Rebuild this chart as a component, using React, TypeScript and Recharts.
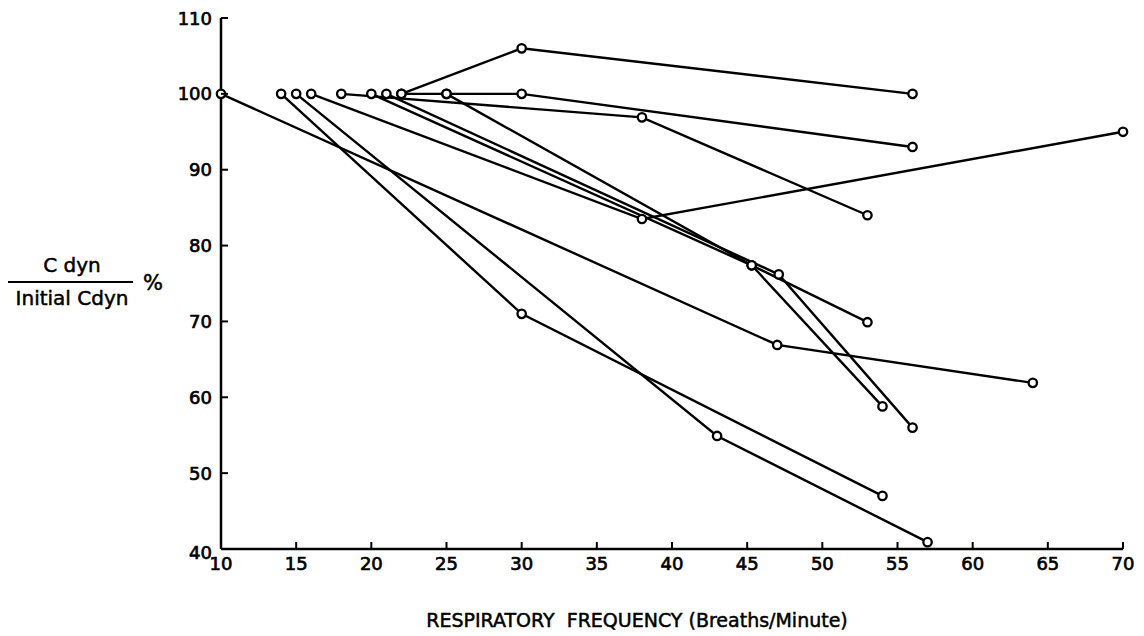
import React from 'react';
import { ComposedChart, Line, Scatter, XAxis, YAxis } from 'recharts';

// frequency (breaths/min) of each measurement, one row per subject
const subjectFreqs: number[][] = [
  [10, 47, 64],
  [14, 30, 54],
  [15, 43, 57],
  [16, 38, 70],
  [18, 38, 53],
  [20, 45.3, 53],
  [21, 47.1, 56],
  [22, 30, 56],
  [22, 25, 30, 56],
  [25, 45.3, 54],
];

// Cdyn as % of initial Cdyn, same layout as subjectFreqs
const subjectCdyn: number[][] = [
  [100, 66.9, 61.9],
  [100, 71, 47],
  [100, 54.9, 40.9],
  [100, 83.5, 95],
  [100, 96.9, 84],
  [100, 77.4, 69.9],
  [100, 76.2, 56],
  [100, 106, 100],
  [100, 100, 100, 93],
  [100, 77.4, 58.8],
];

const xTicks = [10, 15, 20, 25, 30, 35, 40, 45, 50, 55, 60, 65, 70];
const yTicks = [40, 50, 60, 70, 80, 90, 100, 110];

const FONT = '"DejaVu Sans", sans-serif';

const series = subjectFreqs.map((freqs, i) =>
  freqs.map((x, j) => ({ x, y: subjectCdyn[i][j] }))
);
const allPoints = series.flat();

const XTick = (props: any) => {
  const { x, y, payload } = props;
  return (
    <g>
      <line x1={x} x2={x} y1={y} y2={y - 7} stroke="#000" strokeWidth={2} />
      <text x={x} y={y + 14} textAnchor="middle" dominantBaseline="central"
        fontFamily={FONT} fontSize={18} fill="#000" stroke="#000" strokeWidth={0.7}>
        {payload.value}
      </text>
    </g>
  );
};

const YTick = (props: any) => {
  const { x, y, payload } = props;
  const dy = payload.value === 40 ? 3 : 0;
  return (
    <g>
      <line x1={x} x2={x + 7} y1={y} y2={y} stroke="#000" strokeWidth={2} />
      <text x={x - 9} y={y + dy} textAnchor="end" dominantBaseline="central"
        fontFamily={FONT} fontSize={18} fill="#000" stroke="#000" strokeWidth={0.7}>
        {payload.value}
      </text>
    </g>
  );
};

const Ring = (props: any) => (
  <circle cx={props.cx} cy={props.cy} r={4.2} fill="#fff" stroke="#000" strokeWidth={2.3} />
);

const labelStyle: React.CSSProperties = {
  position: 'absolute',
  fontFamily: FONT,
  color: '#000',
  whiteSpace: 'nowrap',
  transform: 'translate(-50%, -50%)',
  WebkitTextStroke: '0.5px #000',
};

export default function App() {
  return (
    <div style={{ position: 'absolute', left: 0, top: 0, width: 1144, height: 636, background: '#fff' }}>
      <ComposedChart width={1144} height={636} margin={{ top: 18, right: 21, bottom: 57, left: 161 }}>
        <XAxis
          type="number"
          dataKey="x"
          domain={[10, 70]}
          ticks={xTicks}
          height={30}
          tickSize={0}
          tickMargin={0}
          tick={<XTick />}
          axisLine={{ stroke: '#000', strokeWidth: 2.5 }}
        />
        <YAxis
          type="number"
          dataKey="y"
          domain={[40, 110]}
          ticks={yTicks}
          width={60}
          tickSize={0}
          tickMargin={0}
          tick={<YTick />}
          axisLine={{ stroke: '#000', strokeWidth: 2.5 }}
        />
        {series.map((data, i) => (
          <Line
            key={`subject-${i}`}
            data={data}
            dataKey="y"
            type="linear"
            stroke="#000"
            strokeWidth={2.4}
            dot={false}
            activeDot={false}
            isAnimationActive={false}
          />
        ))}
        <Scatter data={allPoints} dataKey="y" shape={<Ring />} isAnimationActive={false} />
      </ComposedChart>

      <div style={{ ...labelStyle, left: 72, top: 265, fontSize: 20 }}>C dyn</div>
      <div style={{ position: 'absolute', left: 8, top: 281, width: 125, height: 2, background: '#000' }} />
      <div style={{ ...labelStyle, left: 72, top: 298, fontSize: 20 }}>Initial Cdyn</div>
      <div style={{ ...labelStyle, left: 153, top: 283, fontSize: 21 }}>%</div>
      <div style={{ ...labelStyle, left: 637, top: 620, fontSize: 19 }}>
        RESPIRATORY&nbsp; FREQUENCY (Breaths/Minute)
      </div>
    </div>
  );
}
